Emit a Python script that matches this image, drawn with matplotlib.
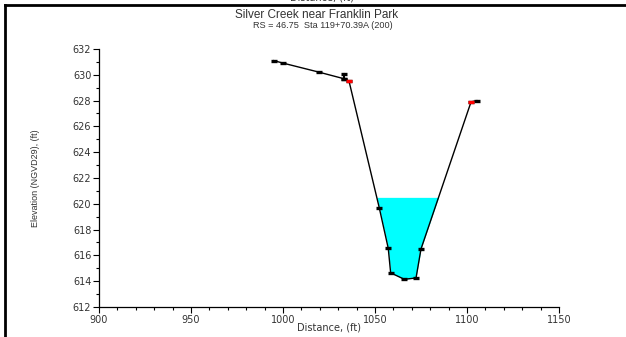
import numpy as np
import matplotlib
matplotlib.use("Agg")
import matplotlib.pyplot as plt
from matplotlib.ticker import MultipleLocator

plt.rcParams['font.family'] = ['DejaVu Sans']

# Cross-section ground points (station ft, elevation ft)
station = [995.0, 1000.2, 1019.7, 1033.0, 1033.2, 1033.4, 1035.9,
           1052.3, 1057.2, 1058.5, 1065.9, 1072.3, 1075.0, 1102.2, 1105.3]
elevation = [631.1, 630.9, 630.2, 629.7, 630.1, 629.7, 629.5,
             619.7, 616.55, 614.65, 614.15, 614.25, 616.5, 627.9, 628.0]
bank_station = [1035.9, 1102.2]
bank_elevation = [629.5, 627.9]
water_surface = 620.5

title = "Silver Creek near Franklin Park"
subtitle = "RS = 46.75  Sta 119+70.39A (200)"
xlabel = "Distance, (ft)"
ylabel = "Elevation (NGVD29), (ft)"

W, H = 626, 337
fig = plt.figure(figsize=(W / 100, H / 100), dpi=100)
ax = fig.add_axes([99 / W, (H - 307) / H, (559 - 99) / W, (307 - 49) / H])

st = np.array(station)
el = np.array(elevation)

# Water fill: ground below the water surface inside the channel
lo = np.argmin(el)
left = np.interp(water_surface, el[6:lo + 1][::-1], st[6:lo + 1][::-1])
right = np.interp(water_surface, el[lo:14], st[lo:14])
mask = (st > left) & (st < right)
xs = np.concatenate([[left], st[mask], [right]])
ys = np.concatenate([[water_surface], el[mask], [water_surface]])
ax.fill_between(xs, ys, water_surface, color='#00FFFF', linewidth=0, zorder=1)

ax.plot(st, el, color='black', linewidth=1.0, zorder=2)
ax.plot(st, el, linestyle='none', marker='_', markersize=5, mew=2.4,
        color='black', zorder=3)
ax.plot(bank_station, bank_elevation, linestyle='none', marker='_',
        markersize=5, mew=2.4, color='red', zorder=4)

ax.set_xlim(900, 1150)
ax.set_ylim(612, 632)
ax.xaxis.set_major_locator(MultipleLocator(50))
ax.xaxis.set_minor_locator(MultipleLocator(10))
ax.yaxis.set_major_locator(MultipleLocator(2))
ax.yaxis.set_minor_locator(MultipleLocator(1))
ax.tick_params(which='major', direction='out', length=4, width=0.8,
               labelsize=7, pad=1.5, labelcolor='#333333')
ax.tick_params(which='minor', direction='out', length=2, width=0.8)
for s in ('top', 'right'):
    ax.spines[s].set_visible(False)
for s in ('left', 'bottom'):
    ax.spines[s].set_linewidth(0.9)

fig.text(329 / W, 1 - 327 / H, xlabel, fontsize=7, ha='center', va='center',
         color='#333333')
fig.text(35 / W, 1 - 178 / H, ylabel, rotation=90, fontsize=6.5,
         ha='center', va='center', color='#333333',
         family=['Liberation Sans Narrow', 'Liberation Sans', 'DejaVu Sans'])

fig.text(317 / W, 1 - 15 / H, title, fontsize=8.5, ha='center', va='center',
         color='#333333', family=['Liberation Sans', 'DejaVu Sans'])
fig.text(323 / W, 1 - 26 / H, subtitle, fontsize=6.6, ha='center',
         va='center', color='#333333', family=['Liberation Sans', 'DejaVu Sans'])

# Caption of the panel above, cut by the frame
fig.text(322 / W, 1 + 2.5 / H, xlabel, fontsize=7, ha='center', va='center',
         color='#333333')

# Panel frame
fig.add_artist(plt.Line2D([5 / W, 1], [1 - 5 / H, 1 - 5 / H],
                          transform=fig.transFigure, color='black', linewidth=2))
fig.add_artist(plt.Line2D([5 / W, 5 / W], [0, 1 - 5 / H],
                          transform=fig.transFigure, color='black', linewidth=2))

fig.savefig("out.png", dpi=100)
